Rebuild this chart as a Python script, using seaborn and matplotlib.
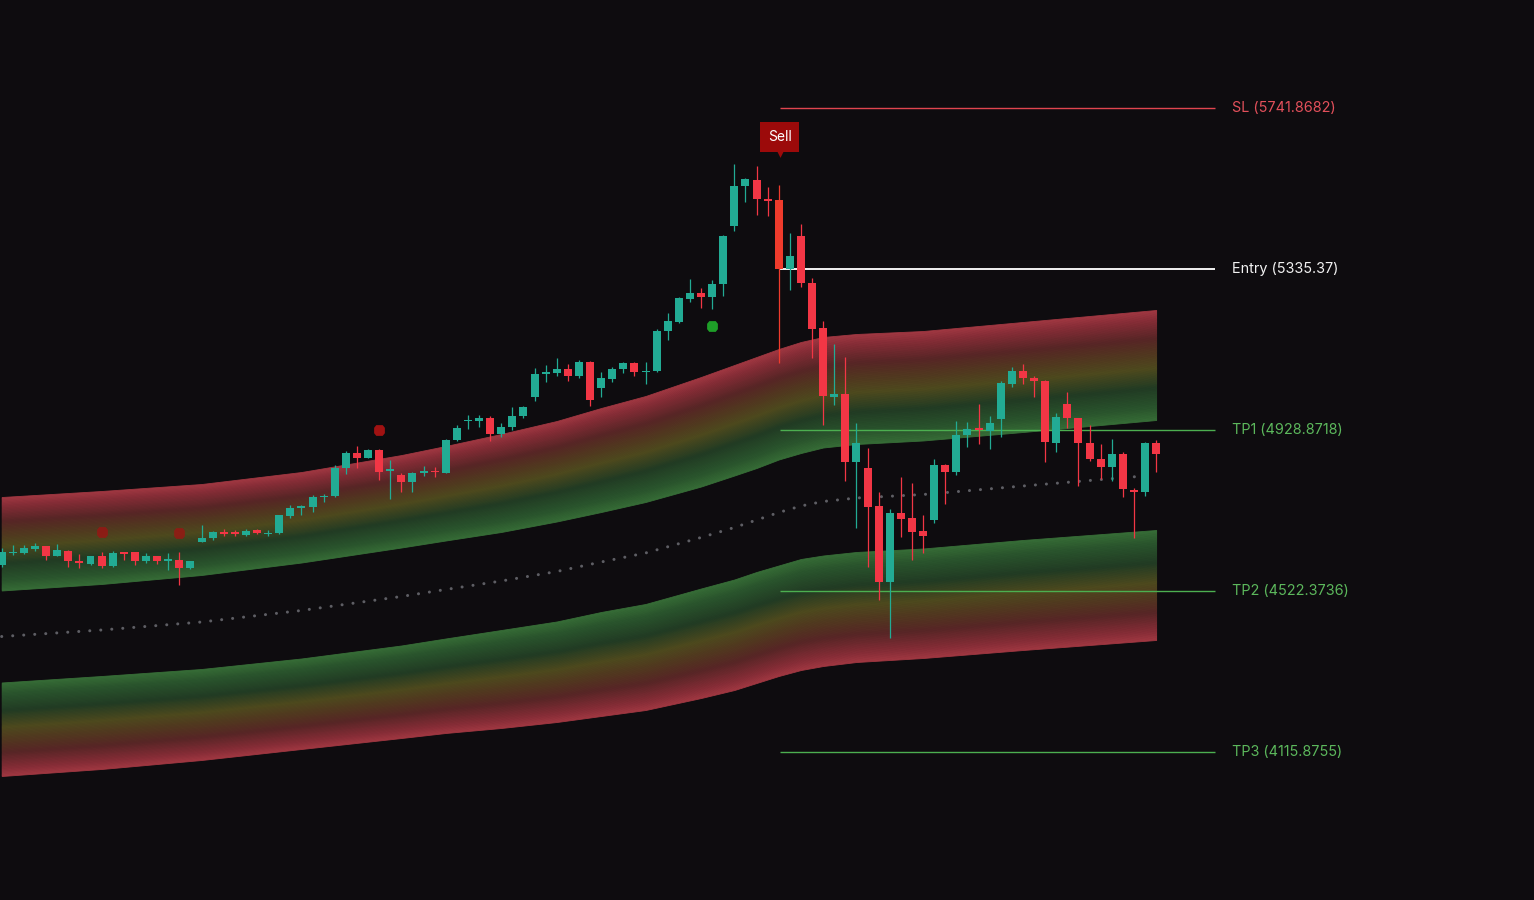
import numpy as np
import matplotlib
matplotlib.use("Agg")
import matplotlib.pyplot as plt
from matplotlib.colors import LinearSegmentedColormap
import seaborn as sns

# ==========================
# 数据
# ==========================
opens = [4588, 4618, 4618, 4628, 4636, 4611, 4624, 4599, 4590, 4611,
         4586, 4620, 4620, 4598, 4611, 4598, 4601, 4580, 4647, 4655,
         4671, 4671, 4664, 4676, 4666, 4668, 4712, 4733, 4735, 4759,
         4761, 4834, 4870, 4859, 4879, 4825, 4816, 4797, 4821, 4826,
         4821, 4904, 4951, 4952, 4960, 4918, 4936, 4964, 5013, 5070,
         5072, 5083, 5066, 5101, 5034, 5058, 5082, 5099, 5075, 5078,
         5180, 5202, 5260, 5276, 5264, 5297, 5444, 5545, 5560, 5512,
         5510, 5335, 5419, 5299, 5186, 5013, 5020, 4849, 4832, 4737,
         4546, 4719, 4706, 4674, 4702, 4841, 4824, 4915, 4934, 4926,
         4957, 5044, 5078, 5059, 5053, 4897, 4995, 4958, 4895, 4855,
         4835, 4868, 4777, 4773, 4895]
highs = [4631, 4639, 4639, 4643, 4637, 4641, 4625, 4615, 4612, 4620,
         4623, 4621, 4622, 4618, 4612, 4618, 4622, 4599, 4689, 4674,
         4678, 4676, 4679, 4679, 4676, 4715, 4740, 4740, 4765, 4767,
         4841, 4877, 4889, 4881, 4880, 4853, 4821, 4823, 4838, 4836,
         4905, 4942, 4967, 4967, 4964, 4947, 4988, 4990, 5085, 5093,
         5111, 5096, 5106, 5104, 5075, 5088, 5100, 5100, 5101, 5184,
         5225, 5265, 5310, 5287, 5308, 5421, 5600, 5566, 5595, 5542,
         5548, 5425, 5448, 5312, 5204, 5146, 5114, 4947, 4883, 4772,
         4729, 4811, 4794, 4714, 4856, 4842, 4952, 4950, 4994, 4963,
         5053, 5087, 5096, 5064, 5055, 4971, 5024, 4960, 4942, 4893,
         4905, 4873, 4782, 4898, 4904]
lows = [4583, 4613, 4616, 4624, 4601, 4610, 4584, 4581, 4589, 4581,
        4584, 4601, 4588, 4592, 4590, 4575, 4538, 4579, 4646, 4651,
        4662, 4661, 4661, 4666, 4660, 4667, 4707, 4714, 4722, 4746,
        4759, 4818, 4832, 4857, 4803, 4755, 4773, 4773, 4813, 4811,
        4820, 4900, 4931, 4937, 4902, 4912, 4930, 4958, 5003, 5051,
        5066, 5053, 5059, 4990, 5013, 5049, 5073, 5066, 5045, 5075,
        5156, 5198, 5251, 5238, 5234, 5268, 5431, 5504, 5472, 5470,
        5098, 5282, 5291, 5110, 4942, 4992, 4801, 4681, 4584, 4500,
        4403, 4658, 4601, 4618, 4695, 4743, 4815, 4885, 4894, 4880,
        4910, 5037, 5044, 5013, 4849, 4874, 4935, 4787, 4851, 4805,
        4801, 4759, 4655, 4761, 4824]
closes = [4622, 4622, 4630, 4636, 4611, 4626, 4598, 4592, 4611, 4586,
          4618, 4615, 4598, 4611, 4598, 4603, 4580, 4598, 4657, 4671,
          4666, 4666, 4675, 4668, 4670, 4714, 4733, 4737, 4759, 4763,
          4834, 4870, 4859, 4879, 4824, 4831, 4797, 4821, 4825, 4823,
          4904, 4935, 4954, 4960, 4918, 4937, 4964, 4986, 5070, 5075,
          5083, 5066, 5101, 5005, 5059, 5083, 5099, 5075, 5079, 5179,
          5204, 5261, 5276, 5264, 5297, 5419, 5545, 5562, 5511, 5507,
          5335, 5368, 5299, 5183, 5015, 5019, 4849, 4895, 4735, 4546,
          4719, 4704, 4672, 4660, 4841, 4824, 4916, 4931, 4929, 4947,
          5047, 5078, 5059, 5053, 4898, 4962, 4958, 4895, 4855, 4835,
          4868, 4779, 4773, 4897, 4868]

signal_idx = 70

# 通道 (锚点处的价格)
band_idx = [0, 9, 18, 27, 36, 40, 45, 50, 54, 58,
            63, 66, 68, 70, 72, 74, 77, 83, 92, 104]
upper_outer = [4759.7, 4774.9, 4792.5, 4822.8, 4865.6, 4888.5, 4918.8, 4951.6, 4984.4, 5014.7,
               5062.7, 5093.0, 5113.2, 5133.4, 5151.1, 5163.7, 5171.3, 5178.8, 5201.6, 5231.9]
upper_inner = [4523.7, 4540.1, 4562.8, 4594.3, 4632.2, 4649.9, 4671.4, 4697.9, 4721.8, 4747.1,
               4786.2, 4814.0, 4832.9, 4854.4, 4870.8, 4884.7, 4893.5, 4902.4, 4923.8, 4954.1]
mid_line = [4407.5, 4423.9, 4444.1, 4473.2, 4508.5, 4526.2, 4547.6, 4571.6, 4595.6, 4618.3,
            4657.5, 4682.7, 4701.6, 4720.6, 4737.0, 4748.4, 4757.2, 4766.0, 4787.5, 4815.3]
lower_inner = [4291.4, 4307.8, 4325.5, 4352.0, 4384.8, 4402.5, 4423.9, 4445.4, 4469.4, 4489.6,
               4528.7, 4551.4, 4570.4, 4586.8, 4603.2, 4612.0, 4620.9, 4629.7, 4651.2, 4676.4]
lower_outer = [4055.3, 4073.0, 4095.7, 4123.5, 4151.2, 4163.9, 4176.5, 4191.6, 4206.8, 4221.9,
               4252.2, 4272.4, 4290.1, 4307.8, 4322.9, 4333.0, 4343.1, 4353.2, 4373.4, 4398.7]

# 信号点
sig_red_idx = [9, 16, 34]
sig_red_val = [4671, 4669, 4929]
sig_red_alpha = [0.75, 0.75, 1.0]
sig_green_idx = [64]
sig_green_val = [5191]

# 止损/止盈
level_values = [5741.8682, 5335.37, 4928.8718, 4522.3736, 4115.8755]
level_text = ["SL (5741.8682)", "Entry (5335.37)", "TP1 (4928.8718)",
              "TP2 (4522.3736)", "TP3 (4115.8755)"]

# ==========================
# 样式
# ==========================
bg = "#0e0c0f"
up_col = "#22ab94"
dn_col = "#f23645"
sig_col = "#ef3b2c"
level_line_cols = ["#e0454f", "#f2f2f2", "#4caf50", "#4caf50", "#4caf50"]
level_text_cols = ["#e3505b", "#f2f2f2", "#5cb85c", "#5cb85c", "#5cb85c"]

sns.set_theme(style="dark", rc={"axes.facecolor": bg, "figure.facecolor": bg})
plt.rcParams["font.family"] = ["Inter", "DejaVu Sans"]

fig = plt.figure(figsize=(15.34, 9.0), dpi=100)
ax = fig.add_axes([0, 0, 1, 1])
ax.set_facecolor(bg)

band_cmap = LinearSegmentedColormap.from_list("band", [
    (0.0, (55/255, 110/255, 55/255)),
    (0.12, (42/255, 85/255, 45/255)),
    (0.30, (34/255, 60/255, 36/255)),
    (0.48, (78/255, 74/255, 30/255)),
    (0.62, (82/255, 55/255, 32/255)),
    (0.75, (88/255, 38/255, 38/255)),
    (0.92, (135/255, 45/255, 55/255)),
    (1.0, (160/255, 55/255, 65/255)),
])


def draw_band(inner, outer, n=80):
    inner = np.asarray(inner, dtype=float)
    outer = np.asarray(outer, dtype=float)
    for k in range(n):
        t0, t1 = k / n, (k + 1) / n
        c = band_cmap((t0 + t1) / 2)
        ax.fill_between(band_idx, inner + (outer - inner) * t0,
                        inner + (outer - inner) * t1,
                        color=c, ec=c, lw=0.6, zorder=1)


draw_band(upper_inner, upper_outer)
draw_band(lower_inner, lower_outer)

# 中线 (点线)
sns.lineplot(x=band_idx, y=mid_line, ax=ax, color="#5e5e64", lw=2.2,
             linestyle=(0, (0.01, 3.6)), dash_capstyle="round", zorder=2)

# 价位线
for v, lc, tc, txt in zip(level_values, level_line_cols, level_text_cols, level_text):
    lw = 1.4 if txt.startswith("Entry") else 1.0
    ax.hlines(v, signal_idx + 0.1, 109.3, color=lc, lw=lw, zorder=3)
    ax.text(110.8, v, txt, color=tc, fontsize=10.4, va="center", ha="left", zorder=6)

# ==========================
# K线
# ==========================
idx = np.arange(len(opens))
o = np.array(opens, dtype=float)
c = np.array(closes, dtype=float)
h = np.array(highs, dtype=float)
l = np.array(lows, dtype=float)
cols = np.where(c >= o, up_col, dn_col).astype(object)
cols[signal_idx] = sig_col

ax.vlines(idx, l, h, colors=list(cols), lw=0.9, zorder=4)
body_lo = np.minimum(o, c)
body_h = np.maximum(np.abs(c - o), 2.5)
ax.bar(idx, body_h, bottom=body_lo, width=0.72, color=list(cols), lw=0, zorder=5)

# 信号标记
shape = [(-0.6, -1), (0.6, -1), (1, -0.5), (1, 0.5), (0.6, 1), (-0.6, 1), (-1, 0.5), (-1, -0.5)]
for i, v, a in zip(sig_red_idx, sig_red_val, sig_red_alpha):
    ax.scatter([i], [v], marker=shape, s=60, color="#a01212", alpha=a, lw=0, zorder=5)
ax.scatter(sig_green_idx, sig_green_val, marker=shape, s=60, color="#1e9e28", lw=0, zorder=5)

# Sell 标签
ax.text(signal_idx + 0.1, 5668.6, "Sell", color="white", fontsize=10, ha="center", va="center",
        bbox=dict(boxstyle="square,pad=0.55", fc="#9c0a0a", ec="none"), zorder=7)
ax.scatter([signal_idx + 0.1], [5628], marker="v", s=40, color="#9c0a0a", lw=0, zorder=7)

ax.set_xlim(-0.153, 138.04)
ax.set_ylim(3742.22, 6014.54)
ax.set_axis_off()

fig.savefig("out.png", dpi=100, facecolor=bg)
